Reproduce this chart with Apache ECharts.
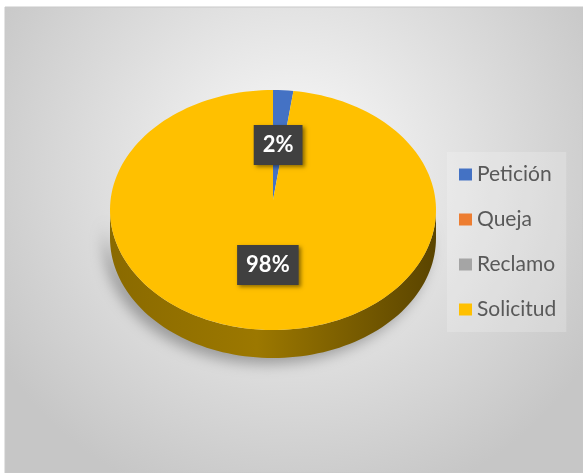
<!DOCTYPE html>
<html>
<head>
<meta charset="utf-8">
<script src="https://cdn.jsdelivr.net/npm/echarts@6/dist/echarts.min.js"></script>
<style>
  html, body { margin: 0; padding: 0; background: #fff; }
  #chart { width: 583px; height: 473px; }
</style>
</head>
<body>
<div id="chart"></div>
<script>
// datos del gráfico
const categories = ['Petición', 'Queja', 'Reclamo', 'Solicitud'];
const values = [2, 0, 0, 98];

// colores de Office
const colors = ['#4472C4', '#ED7D31', '#A5A5A5', '#FFC000'];
const sideColors = [
  ['#2a4a85', '#36599e', '#203a6a'],
  ['#a0521e', '#b45e24', '#7f4117'],
  ['#6e6e6e', '#7c7c7c', '#555555'],
  ['#8a6a00', '#9c7800', '#5a4400']
];

// geometría del pastel "3D"
const cx = 273, cy = 210, rx = 163, ry = 120, depth = 28;
const tip = [273, 200];

function pt(deg, dz) {
  const a = deg * Math.PI / 180;
  return [cx + rx * Math.sin(a), cy - ry * Math.cos(a) + dz];
}

function arc(a0, a1, dz) {
  const pts = [];
  const n = Math.max(2, Math.ceil((a1 - a0) / 2));
  for (let i = 0; i <= n; i++) {
    pts.push(pt(a0 + (a1 - a0) * i / n, dz));
  }
  return pts;
}

function makeRender(idx) {
  return function (params, api) {
    const total = values.reduce((s, v) => s + v, 0);
    const before = values.slice(0, idx).reduce((s, v) => s + v, 0);
    const v = api.value(0);
    if (!v) return { type: 'group', children: [] };
    const a0 = before / total * 360;
    const a1 = (before + v) / total * 360;
    const children = [];

    // cara lateral (solo la parte frontal)
    const s = Math.max(a0, 90), e = Math.min(a1, 270);
    if (e > s) {
      const top = arc(s, e, 0);
      const bottom = arc(s, e, depth).reverse();
      const sc = sideColors[idx];
      children.push({
        type: 'polygon',
        z2: 1,
        shape: { points: top.concat(bottom) },
        style: {
          fill: new echarts.graphic.LinearGradient(0, 0, 1, 0, [
            { offset: 0, color: sc[0] },
            { offset: 0.45, color: sc[1] },
            { offset: 1, color: sc[2] }
          ]),
          shadowColor: 'rgba(0,0,0,0.3)',
          shadowBlur: 14,
          shadowOffsetX: -6,
          shadowOffsetY: 6
        }
      });
    }

    // cara superior
    children.push({
      type: 'polygon',
      z2: 5,
      shape: { points: [tip].concat(arc(a0, a1, 0)) },
      style: { fill: colors[idx] }
    });

    // etiqueta de porcentaje
    const mid = (a0 + a1) / 2;
    const p = pt(mid, 0);
    children.push({
      type: 'text',
      z2: 10,
      x: tip[0] + 0.5 * (p[0] - tip[0]),
      y: tip[1] + 0.5 * (p[1] - tip[1]),
      style: {
        text: Math.round(v / total * 100) + '%',
        align: 'center',
        verticalAlign: 'middle',
        fill: '#ffffff',
        fontSize: 22,
        fontWeight: 'bold',
        fontFamily: 'Lato',
        lineHeight: 22,
        backgroundColor: '#404040',
        padding: [9, 9, 9, 9],
        shadowColor: 'rgba(0,0,0,0.45)',
        shadowBlur: 4,
        shadowOffsetX: 2,
        shadowOffsetY: 2
      }
    });
    return { type: 'group', children: children };
  };
}

const chart = echarts.init(document.getElementById('chart'));

const option = {
  animation: false,
  color: colors,
  graphic: [{
    type: 'rect',
    z: -10,
    shape: { x: 5, y: 7, width: 578, height: 466 },
    style: {
      fill: new echarts.graphic.RadialGradient(0.5, 0.35, 0.75, [
        { offset: 0, color: '#fbfbfb' },
        { offset: 1, color: '#c6c6c6' }
      ]),
      stroke: '#c9c9c9',
      lineWidth: 1
    }
  }],
  legend: {
    data: categories,
    orient: 'vertical',
    left: 447,
    top: 152,
    padding: [12, 10, 12, 12],
    itemWidth: 13,
    itemHeight: 12,
    itemGap: 24,
    icon: 'rect',
    backgroundColor: 'rgba(255,255,255,0.2)',
    textStyle: { color: '#595959', fontSize: 21, fontFamily: 'Lato', lineHeight: 21 }
  },
  series: categories.map((name, i) => ({
    name: name,
    type: 'custom',
    coordinateSystem: 'none',
    itemStyle: { color: colors[i] },
    renderItem: makeRender(i),
    data: [[values[i]]]
  }))
};

option && chart.setOption(option);
</script>
</body>
</html>
